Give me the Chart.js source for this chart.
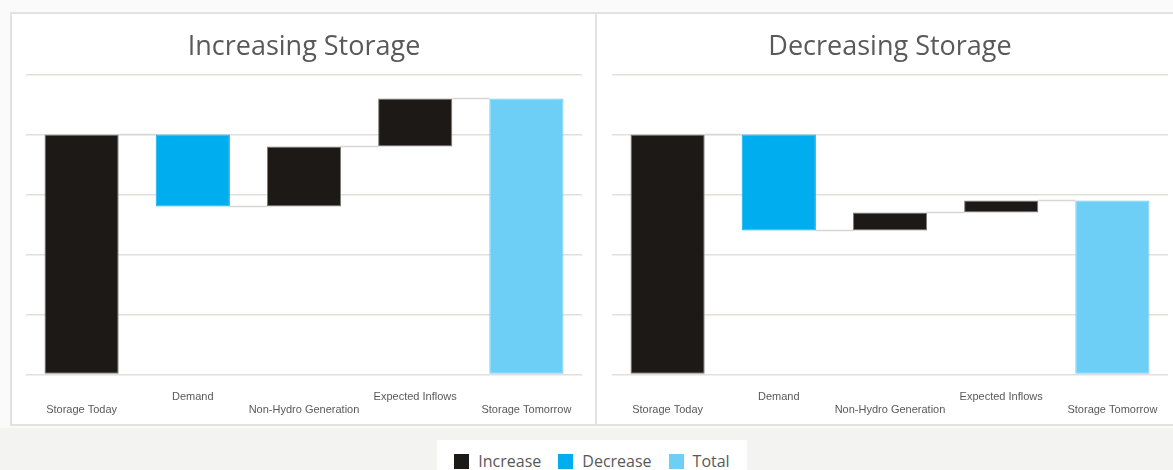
<!DOCTYPE html>
<html>
<head>
<meta charset="utf-8">
<script src="https://cdn.jsdelivr.net/npm/chart.js@4"></script>
<style>
    body { margin: 0; width: 1173px; height: 470px; background: #fafafa; position: relative; overflow: hidden; font-family: "Open Sans", sans-serif; }
    .bottom { position: absolute; left: 0; top: 428px; width: 1173px; height: 42px; background: #f3f3f2; }
    .frame { position: absolute; left: 10px; top: 12px; width: 1170px; height: 414px; background: #fff; border: 2px solid #e4e2de; box-sizing: border-box; }
    .panel { position: absolute; top: 13px; height: 420px; }
    #left { left: 12px; width: 584px; }
    #right { left: 598px; width: 584px; }
    .divider { position: absolute; left: 595px; top: 12px; width: 2px; height: 414px; background: #e4e2de; }
    #legend { position: absolute; left: 437px; top: 440px; width: 310px; height: 40px; background: #fff; display: flex; justify-content: center; gap: 17px; padding-top: 12px; box-sizing: border-box; }
    .item { display: flex; align-items: center; font-size: 16px; color: #595959; height: 18px; }
    .swatch { width: 15px; height: 15px; margin-right: 9px; }
</style>
</head>
<body>
<div class="bottom"></div>
<div class="frame"></div>
<div class="divider"></div>
<div class="panel" id="left"><canvas id="increasingChart"></canvas></div>
<div class="panel" id="right"><canvas id="decreasingChart"></canvas></div>
<div id="legend"></div>
<script>
const categories = ['Storage Today', 'Demand', 'Non-Hydro Generation', 'Expected Inflows', 'Storage Tomorrow'];
const barTypes = ['Increase', 'Decrease', 'Increase', 'Increase', 'Total'];

const increasingLow = [0, 2.8, 2.8, 3.8, 0];
const increasingHigh = [4, 4, 3.8, 4.6, 4.6];

const decreasingLow = [0, 2.4, 2.4, 2.7, 0];
const decreasingHigh = [4, 4, 2.7, 2.9, 2.9];

const legendNames = ['Increase', 'Decrease', 'Total'];
const legendColors = ['#1c1917', '#00aeef', '#6dcff6'];

function colorFor(type) {
    return legendColors[legendNames.indexOf(type)];
}

// staggered labels: odd ones on the first line, even ones on the second
const tickLabels = categories.map((c, i) => i % 2 === 1 ? [c, ''] : ['', c]);

const connectorPlugin = {
    id: 'connectors',
    afterDatasetsDraw(chart) {
        const meta = chart.getDatasetMeta(0);
        const data = chart.data.datasets[0].data;
        const y = chart.scales.y;
        const ctx = chart.ctx;
        ctx.save();
        ctx.strokeStyle = '#d6d6d6';
        ctx.lineWidth = 1.5;
        for (let i = 0; i < data.length - 1; i++) {
            const level = barTypes[i] === 'Decrease' ? data[i][0] : data[i][1];
            const a = meta.data[i], b = meta.data[i + 1];
            const py = y.getPixelForValue(level);
            ctx.beginPath();
            ctx.moveTo(a.x + a.width / 2, py);
            ctx.lineTo(b.x - b.width / 2, py);
            ctx.stroke();
        }
        ctx.restore();
    }
};

function makeChart(id, title, low, high) {
    new Chart(document.getElementById(id), {
        type: 'bar',
        data: {
            labels: tickLabels,
            datasets: [{
                data: low.map((v, i) => [v, high[i]]),
                backgroundColor: barTypes.map(colorFor),
                borderColor: barTypes.map(t => t === 'Increase' ? '#7d7b78' : colorFor(t)),
                borderWidth: 1,
                borderSkipped: false,
                categoryPercentage: 1,
                barPercentage: 0.667
            }]
        },
        options: {
            responsive: true,
            maintainAspectRatio: false,
            animation: false,
            layout: { padding: { left: 14, right: 14, top: 0, bottom: 0 } },
            plugins: {
                legend: { display: false },
                tooltip: { enabled: false },
                title: {
                    display: true,
                    text: title,
                    color: '#595959',
                    font: { family: 'Open Sans', size: 27, weight: 'normal' },
                    padding: { top: 18, bottom: 11 }
                }
            },
            scales: {
                x: {
                    grid: { display: false, drawTicks: false },
                    border: { display: false },
                    ticks: {
                        color: '#595959',
                        font: { family: 'Liberation Sans', size: 11 },
                        padding: 16,
                        maxRotation: 0,
                        autoSkip: false
                    }
                },
                y: {
                    min: 0,
                    max: 5,
                    ticks: { display: false, stepSize: 1 },
                    grid: { color: '#e2e0dd', lineWidth: 1.5, drawTicks: false },
                    border: { display: false }
                }
            }
        },
        plugins: [connectorPlugin]
    });
}

makeChart('increasingChart', 'Increasing Storage', increasingLow, increasingHigh);
makeChart('decreasingChart', 'Decreasing Storage', decreasingLow, decreasingHigh);

const legend = document.getElementById('legend');
legendNames.forEach((name, i) => {
    legend.innerHTML += `<div class="item"><span class="swatch" style="background:${legendColors[i]}"></span>${name}</div>`;
});
</script>
</body>
</html>
